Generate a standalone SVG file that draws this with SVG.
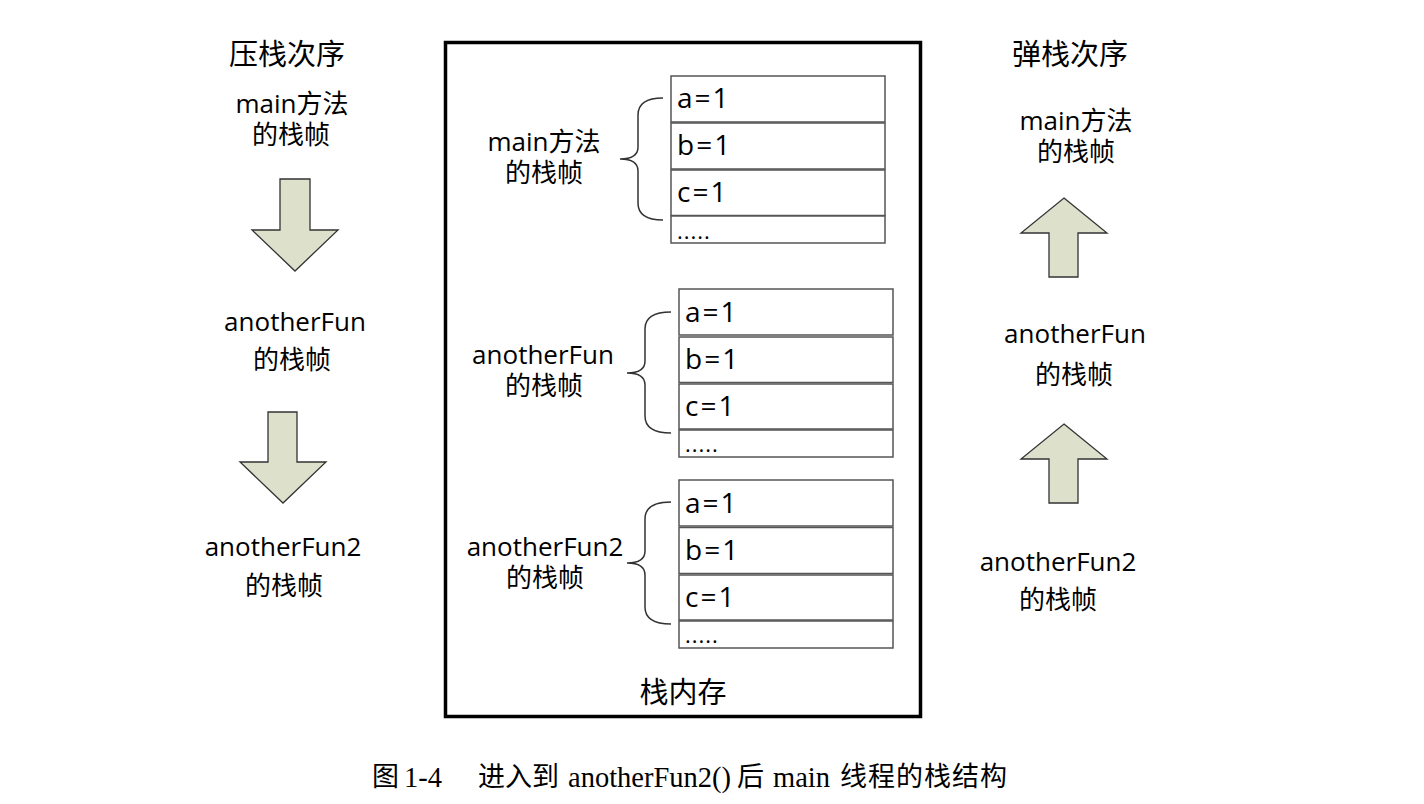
<svg xmlns="http://www.w3.org/2000/svg" width="1424" height="804" viewBox="0 0 1424 804">
<style>
.lbl{font-family:"Open Sans","Noto Sans CJK SC",sans-serif;font-size:26px;fill:#000;text-anchor:middle}
.ttl{font-family:"Open Sans","Noto Sans CJK SC",sans-serif;font-size:29px;fill:#000;text-anchor:middle}
.cell{fill:#fff;stroke:#555;stroke-width:1.5}
.val{font-family:"Open Sans","Noto Sans CJK SC",sans-serif;font-size:28px;fill:#000;letter-spacing:2px}
.dots{font-family:"Open Sans",sans-serif;font-size:22px;fill:#000;letter-spacing:1px}
.arr{fill:#DDE1CC;stroke:#333;stroke-width:1.3;stroke-linejoin:miter}
.brace{fill:none;stroke:#333;stroke-width:1.5}
.cap{font-family:"Liberation Serif","Noto Sans CJK SC",serif;font-size:28.5px;fill:#000}
.capc{font-family:"Noto Sans CJK SC",serif;font-size:27px;fill:#000}
</style>
<rect width="1424" height="804" fill="#fff"/>

<g id="push-order">
<text class="ttl" x="287" y="65">压栈次序</text>
<text class="lbl" x="292" y="113">main方法</text>
<text class="lbl" x="291" y="144">的栈帧</text>
<text class="lbl" x="295" y="331">anotherFun</text>
<text class="lbl" x="292" y="369">的栈帧</text>
<text class="lbl" x="283" y="556">anotherFun2</text>
<text class="lbl" x="284" y="595">的栈帧</text>
</g>

<g id="pop-order">
<text class="ttl" x="1070" y="65">弹栈次序</text>
<text class="lbl" x="1076" y="130">main方法</text>
<text class="lbl" x="1076" y="161">的栈帧</text>
<text class="lbl" x="1075" y="343">anotherFun</text>
<text class="lbl" x="1074" y="384">的栈帧</text>
<text class="lbl" x="1058" y="571">anotherFun2</text>
<text class="lbl" x="1058" y="609">的栈帧</text>
</g>

<g id="arrows">
<polygon class="arr" points="280,179 310,179 310,230 338,230 295,271 252,230 280,230"/>
<polygon class="arr" points="268,412 297,412 297,462 326,462 283,503 240,462 268,462"/>
<polygon class="arr" points="1064,198 1107,233 1078,233 1078,277 1049,277 1049,233 1021,233"/>
<polygon class="arr" points="1064,424 1107,459 1078,459 1078,503 1049,503 1049,459 1021,459"/>
</g>

<g id="stack-memory">
<rect x="445.5" y="42.5" width="475" height="674" fill="none" stroke="#000" stroke-width="3.5"/>
<text class="ttl" x="683" y="703">栈内存</text>
</g>

<g id="frame-main">
<text class="lbl" x="544" y="151">main方法</text>
<text class="lbl" x="544" y="182">的栈帧</text>
<rect class="cell" x="671" y="76" width="214" height="46"/>
<rect class="cell" x="671" y="123" width="214" height="46"/>
<rect class="cell" x="671" y="170" width="214" height="45.5"/>
<rect class="cell" x="671" y="216" width="214" height="27"/>
<text class="val" x="677" y="108">a=1</text>
<text class="val" x="677" y="155">b=1</text>
<text class="val" x="677" y="202">c=1</text>
<text class="dots" x="677" y="239">.....</text>
</g>

<g id="frame-anotherFun">
<text class="lbl" x="543" y="364">anotherFun</text>
<text class="lbl" x="544" y="395">的栈帧</text>
<rect class="cell" x="679" y="289" width="214" height="46"/>
<rect class="cell" x="679" y="337" width="214" height="45.5"/>
<rect class="cell" x="679" y="384" width="214" height="45"/>
<rect class="cell" x="679" y="430" width="214" height="27"/>
<text class="val" x="685" y="322">a=1</text>
<text class="val" x="685" y="369">b=1</text>
<text class="val" x="685" y="416">c=1</text>
<text class="dots" x="685" y="452">.....</text>
</g>

<g id="frame-anotherFun2">
<text class="lbl" x="545" y="556">anotherFun2</text>
<text class="lbl" x="545" y="587">的栈帧</text>
<rect class="cell" x="679" y="480" width="214" height="46"/>
<rect class="cell" x="679" y="527.5" width="214" height="46"/>
<rect class="cell" x="679" y="575" width="214" height="45"/>
<rect class="cell" x="679" y="621" width="214" height="27"/>
<text class="val" x="685" y="513">a=1</text>
<text class="val" x="685" y="560">b=1</text>
<text class="val" x="685" y="607">c=1</text>
<text class="dots" x="685" y="643">.....</text>
</g>

<g id="connectors">
<path class="brace" d="M663,98 Q638,98 638,115 L638,147 Q638,159 620,159 Q638,159 638,171 L638,203 Q638,220 663,220"/>
<path class="brace" d="M671,312 Q645,312 645,329 L645,361 Q645,373 627,373 Q645,373 645,385 L645,416 Q645,433 671,433"/>
<path class="brace" d="M671,502 Q645,502 645,519 L645,551 Q645,563 627,563 Q645,563 645,575 L645,607 Q645,624 671,624"/>
</g>

<g id="caption">
<text class="capc" x="372" y="786">图</text>
<text class="cap" x="404" y="787">1-4</text>
<text class="capc" x="478" y="786">进入到</text>
<text class="cap" x="568" y="787">anotherFun2()</text>
<text class="capc" x="737" y="786">后</text>
<text class="cap" x="773" y="787">main</text>
<text class="capc" x="840" y="786" letter-spacing="1">线程的栈结构</text>
</g>
</svg>
